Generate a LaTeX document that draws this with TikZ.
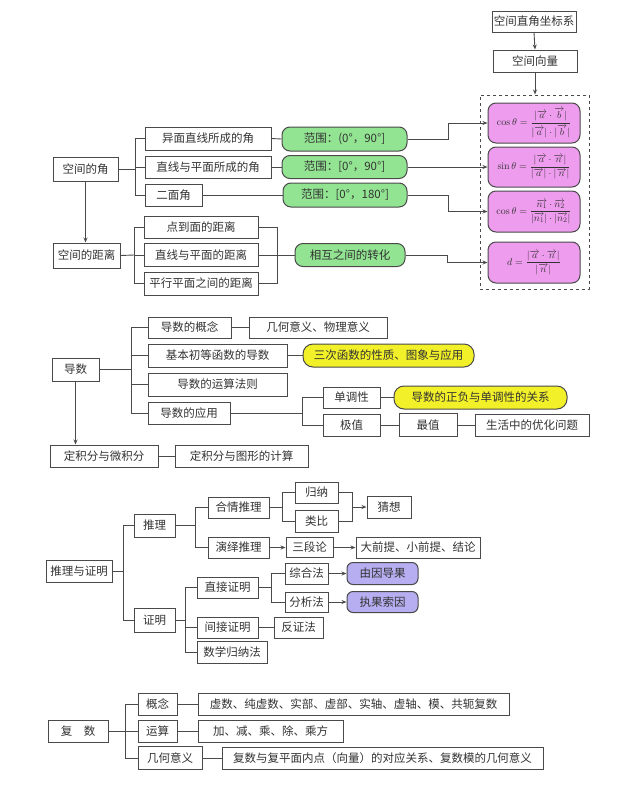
\documentclass[tikz,border=0pt]{standalone}
\usepackage{amsmath}
\usepackage{fontspec}
\setmainfont{Noto Sans CJK SC}
\setmathrm{Latin Modern Roman}
\usetikzlibrary{arrows.meta}
\definecolor{ln}{HTML}{4A4A4A}
\definecolor{grn}{HTML}{92E492}
\definecolor{pnk}{HTML}{EE9CEE}
\definecolor{ylw}{HTML}{F2F028}
\definecolor{vio}{HTML}{B6AEF0}
\tikzset{
  bx/.style={draw=ln, line width=1pt, fill=white, inner sep=0pt, font=\fontsize{11.5}{13}\selectfont, text=black!80},
  gbx/.style={bx, fill=grn, rounded corners=8pt},
  pbx/.style={bx, fill=pnk, rounded corners=8pt, font=\fontsize{10}{12}\selectfont},
  ybx/.style={bx, fill=ylw, rounded corners=10pt},
  vbx/.style={bx, fill=vio, rounded corners=6pt},
  cn/.style={draw=ln, line width=0.9pt},
  arr/.style={cn, -{Stealth[length=5pt,width=4pt]}},
}
\begin{document}
\begin{tikzpicture}[x=1pt,y=-1pt]
\useasboundingbox[fill=white] (0,0) rectangle (640,793);

% ---------- Section 1 ----------
\node[bx, minimum width=84pt, minimum height=21pt] (zj) at (534,21.5) {空间直角坐标系};
\node[bx, minimum width=84pt, minimum height=22pt] (xl) at (535,61) {空间向量};
\node[draw=ln, dashed, line width=1pt, minimum width=109pt, minimum height=194pt, inner sep=0pt] (dash) at (534.5,192) {};
\draw[arr] (zj.south) -- (xl.north);
\draw[arr] (xl.south) -- (xl.south |- dash.north);

\node[pbx, minimum width=92pt, minimum height=40pt] (p1) at (534,123) {$\cos\theta=\dfrac{|\overrightarrow{a}\cdot\overrightarrow{b}|}{|\overrightarrow{a}|\cdot|\overrightarrow{b}|}$};
\node[pbx, minimum width=92pt, minimum height=40pt] (p2) at (534,167) {$\sin\theta=\dfrac{|\overrightarrow{a}\cdot\overrightarrow{n}|}{|\overrightarrow{a}|\cdot|\overrightarrow{n}|}$};
\node[pbx, minimum width=92pt, minimum height=41pt] (p3) at (534,211.5) {$\cos\theta=\dfrac{\overrightarrow{n_1}\cdot\overrightarrow{n_2}}{|\overrightarrow{n_1}|\cdot|\overrightarrow{n_2}|}$};
\node[pbx, minimum width=92pt, minimum height=41pt] (p4) at (534,262.5) {$d=\dfrac{|\overrightarrow{a}\cdot\overrightarrow{n}|}{|\overrightarrow{n}|}$};

\node[bx, minimum width=65pt, minimum height=24pt] (jiao) at (85.5,169) {空间的角};
\node[bx, minimum width=67pt, minimum height=25pt] (juli) at (86.5,255.5) {空间的距离};
\draw[arr] (jiao.south) -- (jiao.south |- juli.north);

\node[bx, minimum width=126pt, minimum height=23pt] (a1) at (208,138.5) {异面直线所成的角};
\node[bx, minimum width=126pt, minimum height=22pt] (a2) at (208,167) {直线与平面所成的角};
\node[bx, minimum width=57pt, minimum height=22pt] (a3) at (173.5,195) {二面角};
\coordinate (jb) at (135,169);
\draw[cn] (jiao.east) -- (jb);
\draw[cn] (a1.west) -| (jb);
\draw[cn] (a3.west) -| (jb);
\draw[cn] (a2.west) -- (a2.west -| jb);

\node[bx, minimum width=114pt, minimum height=22pt] (d1) at (201,227) {点到面的距离};
\node[bx, minimum width=114pt, minimum height=23pt] (d2) at (201,255) {直线与平面的距离};
\node[bx, minimum width=114pt, minimum height=23pt] (d3) at (201,283.5) {平行平面之间的距离};
\coordinate (db) at (134,255);
\draw[cn] (juli.east) -- (db);
\draw[cn] (d1.west) -| (db);
\draw[cn] (d3.west) -| (db);
\draw[cn] (d2.west) -- (db);

\node[gbx, minimum width=125pt, minimum height=24pt] (g1) at (344.5,139) {范围：(0°，90°]};
\node[gbx, minimum width=125pt, minimum height=23pt] (g2) at (344.5,167) {范围：[0°，90°]};
\node[gbx, minimum width=124pt, minimum height=24pt] (g3) at (345,195) {范围：[0°，180°]};
\node[gbx, minimum width=110pt, minimum height=23pt] (g4) at (350,255) {相互之间的转化};

\draw[cn] (a1.east) -- (g1.west);
\draw[cn] (a2.east) -- (g2.west);
\draw[cn] (a3.east) -- (g3.west);
\coordinate (dr) at (277,255);
\draw[cn] (d1.east) -| (dr);
\draw[cn] (d3.east) -| (dr);
\draw[cn] (d2.east) -- (g4.west);

\draw[arr] (g1.east) -- ++(41,0) |- (p1.west);
\draw[arr] (g2.east) -- (p2.west);
\draw[arr] (g3.east) -- ++(41,0) |- (p3.west);
\draw[arr] (g4.east) -- ++(42,0) |- (p4.west);

% ---------- Section 2 ----------
\node[bx, minimum width=47pt, minimum height=23pt] (ds) at (75.5,369.5) {导数};
\node[bx, minimum width=83pt, minimum height=21pt] (b1) at (189.5,327.5) {导数的概念};
\node[bx, minimum width=138pt, minimum height=21pt] (b1r) at (318,327.5) {几何意义、物理意义};
\node[bx, minimum width=139pt, minimum height=23pt] (b2) at (217.5,355.5) {基本初等函数的导数};
\node[ybx, minimum width=171pt, minimum height=23pt] (y1) at (388.5,355.5) {三次函数的性质、图象与应用};
\node[bx, minimum width=139pt, minimum height=23pt] (b3) at (217.5,384.5) {导数的运算法则};
\node[bx, minimum width=82pt, minimum height=22pt] (b4) at (189,413) {导数的应用};
\coordinate (dsb) at (131,369.5);
\draw[cn] (ds.east) -- (dsb);
\draw[cn] (b1.west) -| (dsb);
\draw[cn] (b4.west) -| (dsb);
\draw[cn] (b2.west) -- (b2.west -| dsb);
\draw[cn] (b3.west) -- (b3.west -| dsb);
\draw[cn] (b1.east) -- (b1r.west);
\draw[cn] (b2.east) -- (y1.west);

\node[bx, minimum width=57pt, minimum height=21pt] (c1) at (351.5,397.5) {单调性};
\node[ybx, minimum width=173pt, minimum height=23pt] (y2) at (480.5,397.5) {导数的正负与单调性的关系};
\node[bx, minimum width=57pt, minimum height=22pt] (c2) at (351.5,425) {极值};
\node[bx, minimum width=58pt, minimum height=23pt] (c3) at (428,425) {最值};
\node[bx, minimum width=114pt, minimum height=22pt] (c4) at (532,425) {生活中的优化问题};
\coordinate (ab) at (302,413);
\draw[cn] (b4.east) -- (ab);
\draw[cn] (c1.west) -| (ab);
\draw[cn] (c2.west) -| (ab);
\draw[cn] (c1.east) -- (y2.west);
\draw[cn] (c2.east) -- (c3.west);
\draw[cn] (c3.east) -- (c4.west);

\node[bx, minimum width=108pt, minimum height=22pt] (dj) at (104,456) {定积分与微积分};
\node[bx, minimum width=133pt, minimum height=22pt] (djr) at (241.5,456) {定积分与图形的计算};
\draw[arr] (ds.south) -- (ds.south |- dj.north);
\draw[cn] (dj.east) -- (djr.west);

% ---------- Section 3 ----------
\node[bx, minimum width=66pt, minimum height=22pt] (tl) at (79,571) {推理与证明};
\node[bx, minimum width=41pt, minimum height=23pt] (t1) at (154.5,525.5) {推理};
\node[bx, minimum width=41pt, minimum height=24pt] (t2) at (154.5,620) {证明};
\coordinate (tb) at (123,571);
\draw[cn] (tl.east) -- (tb);
\draw[cn] (t1.west) -| (tb);
\draw[cn] (t2.west) -| (tb);

\node[bx, minimum width=61pt, minimum height=21pt] (hq) at (238.5,507.5) {合情推理};
\node[bx, minimum width=61pt, minimum height=21pt] (yy) at (238.5,547.5) {演绎推理};
\coordinate (t1b) at (195,525.5);
\draw[cn] (t1.east) -- (t1b);
\draw[cn] (hq.west) -| (t1b);
\draw[cn] (yy.west) -| (t1b);

\node[bx, minimum width=61pt, minimum height=21pt] (zj2) at (227.5,587.5) {直接证明};
\node[bx, minimum width=61pt, minimum height=21pt] (jj) at (227.5,627.5) {间接证明};
\node[bx, minimum width=70pt, minimum height=22pt] (sx) at (232,652) {数学归纳法};
\coordinate (t2b) at (185,620);
\draw[cn] (t2.east) -- (t2b);
\draw[cn] (zj2.west) -| (t2b);
\draw[cn] (sx.west) -| (t2b);
\draw[cn] (jj.west) -- (jj.west -| t2b);

\node[bx, minimum width=43pt, minimum height=21pt] (gn) at (316.5,492.5) {归纳};
\node[bx, minimum width=43pt, minimum height=22pt] (lb) at (316.5,521) {类比};
\node[bx, minimum width=44pt, minimum height=22pt] (cx) at (389,507) {猜想};
\coordinate (hqb) at (282,507.5);
\draw[cn] (hq.east) -- (hqb);
\draw[cn] (gn.west) -| (hqb);
\draw[cn] (lb.west) -| (hqb);
\coordinate (hqr) at (352,507);
\draw[cn] (gn.east) -| (hqr);
\draw[cn] (lb.east) -| (hqr);
\draw[arr] (hqr) -- (cx.west);

\node[bx, minimum width=47pt, minimum height=20pt] (sd) at (309.5,547.5) {三段论};
\node[bx, minimum width=124pt, minimum height=21pt] (dq) at (418,547.5) {大前提、小前提、结论};
\draw[arr] (yy.east) -- (sd.west);
\draw[arr] (sd.east) -- (dq.west);

\node[bx, minimum width=43pt, minimum height=21pt] (zh) at (306.5,573.5) {综合法};
\node[bx, minimum width=43pt, minimum height=20pt] (fx) at (306.5,602) {分析法};
\coordinate (zjb) at (271,587.5);
\draw[cn] (zj2.east) -- (zjb);
\draw[cn] (zh.west) -| (zjb);
\draw[cn] (fx.west) -| (zjb);
\node[vbx, minimum width=71pt, minimum height=22pt] (yg) at (382.5,573.5) {由因导果};
\node[vbx, minimum width=71pt, minimum height=21pt] (zg) at (382.5,602) {执果索因};
\draw[arr] (zh.east) -- (yg.west);
\draw[arr] (fx.east) -- (zg.west);

\node[bx, minimum width=49pt, minimum height=21pt] (fz) at (298.5,627.5) {反证法};
\draw[cn] (jj.east) -- (fz.west);

% ---------- Section 4 ----------
\node[bx, minimum width=60pt, minimum height=22pt] (fs) at (78,731) {复\quad 数};
\node[bx, minimum width=39pt, minimum height=22pt] (k1) at (157.5,704) {概念};
\node[bx, minimum width=39pt, minimum height=22pt] (k2) at (157.5,731) {运算};
\node[bx, minimum width=64pt, minimum height=23pt] (k3) at (170,758) {几何意义};
\coordinate (fsb) at (125,731);
\draw[cn] (fs.east) -- (fsb);
\draw[cn] (k1.west) -| (fsb);
\draw[cn] (k3.west) -| (fsb);
\draw[cn] (k2.west) -- (fsb);

\node[bx, minimum width=311pt, minimum height=22pt] (r1) at (353.5,704) {虚数、纯虚数、实部、虚部、实轴、虚轴、模、共轭复数};
\node[bx, minimum width=145pt, minimum height=22pt] (r2) at (270.5,731) {加、减、乘、除、乘方};
\node[bx, minimum width=321pt, minimum height=22pt] (r3) at (382.5,758) {复数与复平面内点（向量）的对应关系、复数模的几何意义};
\draw[cn] (k1.east) -- (r1.west);
\draw[cn] (k2.east) -- (r2.west);
\draw[cn] (k3.east) -- (r3.west);
\end{tikzpicture}
\end{document}
